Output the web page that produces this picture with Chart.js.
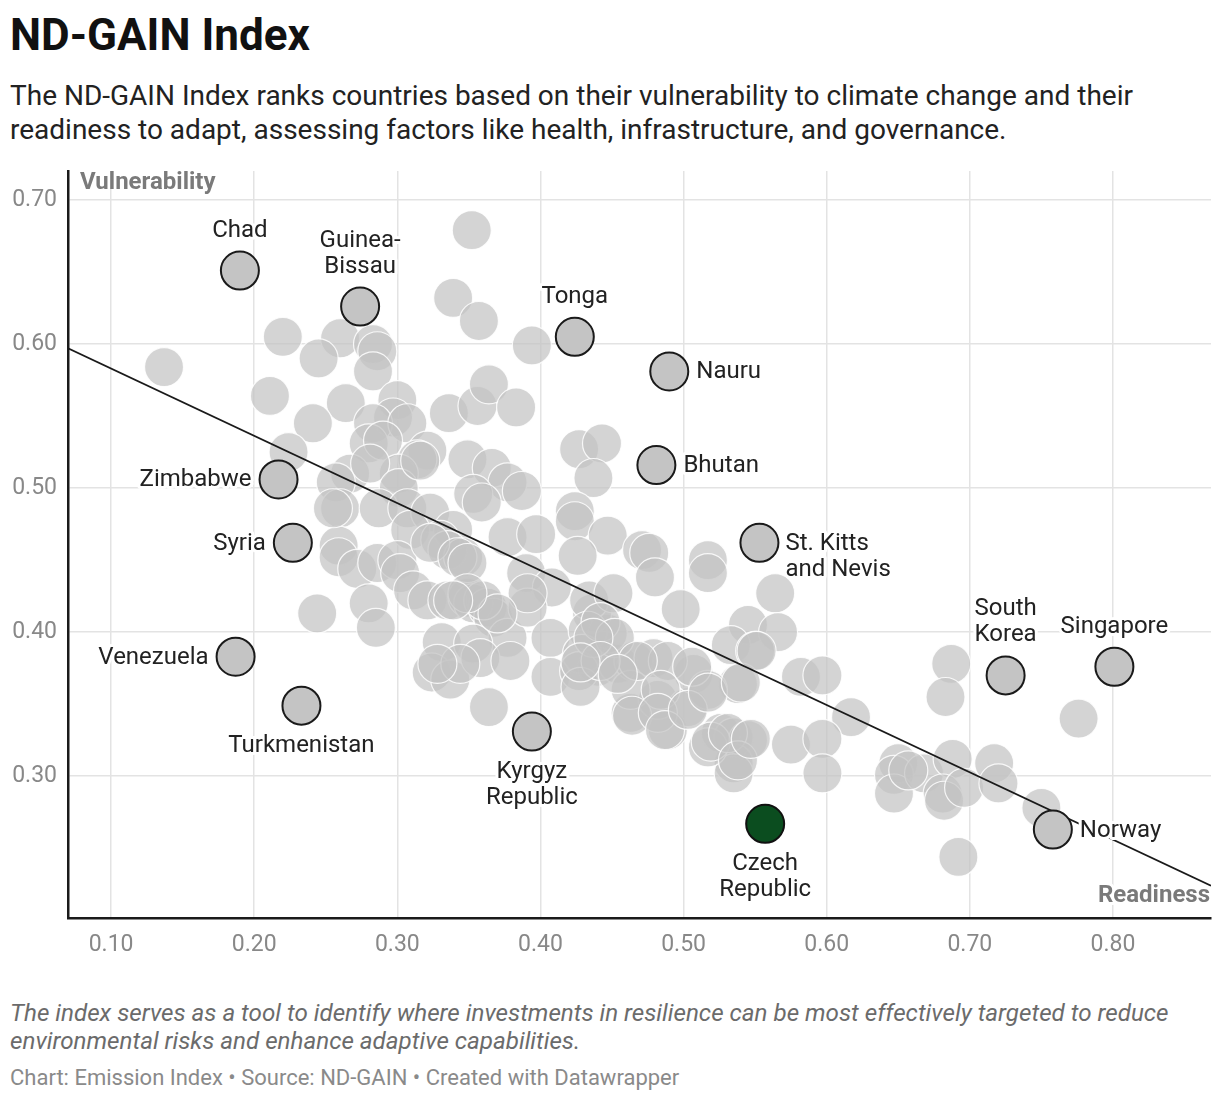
<!DOCTYPE html>
<html>
<head>
<meta charset="utf-8">
<script src="https://cdn.jsdelivr.net/npm/chart.js@4.4.1/dist/chart.umd.min.js"></script>
<style>
  html, body { margin: 0; padding: 0; background: #fff; }
  body { width: 1220px; height: 1102px; position: relative; font-family: Roboto, "Noto Sans", sans-serif; overflow: hidden; }
  #title { position: absolute; left: 10px; top: 8px; font-size: 44px; font-weight: 700; color: #111; line-height: 54px; }
  #sub { position: absolute; left: 10px; top: 79px; width: 1200px; font-size: 28px; line-height: 34px; color: #222; }
  #wrap { position: absolute; left: 0; top: 150px; width: 1232px; height: 830px; }
  #note { position: absolute; left: 10px; top: 999px; width: 1205px; font-size: 24.2px; line-height: 28px; font-style: italic; color: #6b6b6b; }
  #credit { position: absolute; left: 10px; top: 1065px; font-size: 22px; color: #8a8a8a; }
</style>
</head>
<body>
<div id="title">ND-GAIN Index</div>
<div id="sub">The ND-GAIN Index ranks countries based on their vulnerability to climate change and their readiness to adapt, assessing factors like health, infrastructure, and governance.</div>
<div id="wrap"><canvas id="c" width="1232" height="830"></canvas></div>
<div id="note">The index serves as a tool to identify where investments in resilience can be most effectively targeted to reduce environmental risks and enhance adaptive capabilities.</div>
<div id="credit">Chart: Emission Index • Source: ND-GAIN • Created with Datawrapper</div>
<script>
// Background countries: readiness (x) and vulnerability (y)
const otherReadiness = [
  0.137,0.220,0.260,0.245,0.283,0.286,0.283,0.211,0.264,0.300,0.339,0.352,0.357,0.241,0.336,0.394,
  0.297,0.283,0.307,0.280,0.290,0.321,0.314,0.301,0.356,0.364,0.383,0.224,0.349,0.366,0.377,0.387,
  0.267,0.257,0.281,0.301,0.316,0.260,0.287,0.307,0.323,0.309,0.339,0.330,0.335,0.346,0.353,0.359,
  0.377,0.397,0.390,0.408,0.259,0.259,0.272,0.286,0.300,0.302,0.311,0.321,0.335,0.349,0.353,0.363,
  0.367,0.377,0.391,0.244,0.280,0.285,0.331,0.324,0.337,0.353,0.358,0.379,0.364,0.407,0.407,0.344,
  0.328,0.255,
  0.427,0.443,0.437,0.424,0.424,0.447,0.426,0.471,0.476,0.480,0.517,0.517,0.498,0.564,0.545,0.566,
  0.533,0.550,0.538,0.582,0.597,0.617,0.575,0.597,0.597,0.526,0.535,0.545,0.535,0.535,0.517,0.489,
  0.463,0.482,0.503,0.507,0.517,0.440,0.454,0.465,0.479,0.489,0.463,0.447,0.436,0.434,0.451,0.433,
  0.429,0.427,0.428,0.391,0.323,0.342,0.349,0.360,0.370,0.349,0.339,0.442,0.452,0.437,0.468,0.484,
  0.464,0.482,0.487,0.506,0.503,0.517,0.519,0.531,0.538,0.547,0.540,0.551,0.442,0.428,0.454,
  0.687,0.683,0.776,0.650,0.647,0.647,0.668,0.688,0.681,0.682,0.696,0.717,0.720,0.750,0.692,0.657
];
const otherVulnerability = [
  0.584,0.605,0.604,0.590,0.600,0.595,0.581,0.564,0.559,0.561,0.632,0.679,0.616,0.545,0.552,0.599,
  0.549,0.545,0.545,0.531,0.533,0.526,0.520,0.510,0.557,0.572,0.556,0.525,0.520,0.514,0.504,0.498,
  0.510,0.504,0.517,0.500,0.519,0.486,0.486,0.486,0.483,0.471,0.471,0.464,0.457,0.452,0.496,0.490,
  0.466,0.468,0.441,0.431,0.460,0.452,0.444,0.448,0.450,0.441,0.429,0.422,0.422,0.424,0.420,0.417,
  0.410,0.396,0.417,0.413,0.420,0.403,0.393,0.372,0.367,0.392,0.382,0.380,0.348,0.396,0.369,0.378,
  0.378,0.486,
  0.527,0.531,0.507,0.484,0.477,0.467,0.453,0.457,0.455,0.438,0.450,0.441,0.416,0.427,0.405,0.400,
  0.391,0.387,0.364,0.369,0.370,0.341,0.322,0.326,0.302,0.330,0.327,0.325,0.309,0.302,0.320,0.332,
  0.344,0.353,0.348,0.371,0.360,0.376,0.378,0.380,0.382,0.380,0.360,0.399,0.413,0.422,0.427,0.401,
  0.385,0.373,0.362,0.427,0.462,0.452,0.448,0.422,0.413,0.427,0.422,0.407,0.396,0.396,0.380,0.360,
  0.342,0.344,0.332,0.376,0.346,0.358,0.324,0.330,0.311,0.326,0.365,0.387,0.380,0.379,0.371,
  0.378,0.355,0.340,0.309,0.301,0.288,0.302,0.312,0.288,0.283,0.292,0.309,0.295,0.278,0.244,0.304
];

// Highlighted countries
const hiNames = ["Chad","Guinea-Bissau","Tonga","Nauru","Bhutan","Zimbabwe","Syria","St. Kitts and Nevis",
  "Venezuela","Turkmenistan","Kyrgyz Republic","South Korea","Singapore","Norway"];
const hiReadiness = [0.190,0.274,0.424,0.490,0.481,0.217,0.227,0.553,0.187,0.233,0.394,0.725,0.801,0.758];
const hiVulnerability = [0.651,0.626,0.605,0.581,0.516,0.506,0.462,0.462,0.383,0.349,0.331,0.370,0.376,0.263];

const focusName = "Czech Republic";
const focusReadiness = [0.557];
const focusVulnerability = [0.267];

// Trend line endpoints
const trendReadiness = [0.0699, 0.8685];
const trendVulnerability = [0.597, 0.224];

// Axis ticks
const xTicks = [0.1,0.2,0.3,0.4,0.5,0.6,0.7,0.8];
const yTicks = [0.3,0.4,0.5,0.6,0.7];

// label placement: [lines, position]
const labelInfo = {
  "Chad": [["Chad"], "top"],
  "Guinea-Bissau": [["Guinea-","Bissau"], "top"],
  "Tonga": [["Tonga"], "top"],
  "Nauru": [["Nauru"], "right"],
  "Bhutan": [["Bhutan"], "right"],
  "Zimbabwe": [["Zimbabwe"], "left"],
  "Syria": [["Syria"], "left"],
  "St. Kitts and Nevis": [["St. Kitts","and Nevis"], "rightTop"],
  "Venezuela": [["Venezuela"], "left"],
  "Turkmenistan": [["Turkmenistan"], "bottom"],
  "Kyrgyz Republic": [["Kyrgyz","Republic"], "bottom"],
  "South Korea": [["South","Korea"], "top"],
  "Singapore": [["Singapore"], "top"],
  "Norway": [["Norway"], "right"],
  "Czech Republic": [["Czech","Republic"], "bottom"]
};

const toPts = (xs, ys) => xs.map((x, i) => ({x: x, y: ys[i]}));

const labelPlugin = {
  id: 'labels',
  afterDatasetsDraw(chart) {
    const ctx = chart.ctx;
    const ca = chart.chartArea;
    ctx.save();
    // axis titles
    ctx.font = 'bold 24px Roboto';
    ctx.fillStyle = '#7a7a7a';
    ctx.textBaseline = 'middle';
    ctx.textAlign = 'left';
    ctx.fillText('Vulnerability', ca.left + 12, ca.top + 12);
    ctx.textAlign = 'right';
    ctx.lineJoin = 'round';
    ctx.strokeStyle = '#fff';
    ctx.lineWidth = 6;
    ctx.strokeText('Readiness', ca.right - 1, ca.bottom - 22);
    ctx.fillText('Readiness', ca.right - 1, ca.bottom - 22);

    ctx.font = '24px Roboto';
    const lh = 26;
    const drawSet = (dsIndex, names) => {
      const meta = chart.getDatasetMeta(dsIndex);
      meta.data.forEach((el, i) => {
        const info = labelInfo[names[i]];
        if (!info) return;
        const lines = info[0], pos = info[1];
        const px = el.x, py = el.y;
        let tx, ty, align;
        if (pos === 'top') { align = 'center'; tx = px; ty = py - 40 - (lines.length - 1) * lh; }
        else if (pos === 'bottom') { align = 'center'; tx = px; ty = py + 40; }
        else if (pos === 'right') { align = 'left'; tx = px + 27; ty = py + 1; }
        else if (pos === 'rightTop') { align = 'left'; tx = px + 26; ty = py + 1; }
        else { align = 'right'; tx = px - 27; ty = py + 1; }
        ctx.textAlign = align;
        ctx.textBaseline = 'middle';
        lines.forEach((ln, k) => {
          ctx.strokeStyle = '#fff';
          ctx.lineWidth = 6;
          ctx.strokeText(ln, tx, ty + k * lh);
          ctx.fillStyle = '#222';
          ctx.fillText(ln, tx, ty + k * lh);
        });
      });
    };
    drawSet(2, hiNames);
    drawSet(3, [focusName]);
    ctx.restore();
  }
};

new Chart(document.getElementById('c'), {
  type: 'scatter',
  data: {
    datasets: [
      {
        label: 'Countries',
        data: toPts(otherReadiness, otherVulnerability),
        backgroundColor: 'rgba(195,195,195,0.72)',
        borderColor: 'rgba(255,255,255,0.85)',
        borderWidth: 1.2,
        pointRadius: 19.5,
        pointHoverRadius: 19.5,
        order: 4
      },
      {
        type: 'line',
        label: 'Trend',
        data: toPts(trendReadiness, trendVulnerability),
        borderColor: '#1a1a1a',
        borderWidth: 1.8,
        pointRadius: 0,
        fill: false,
        order: 3
      },
      {
        label: 'Highlighted',
        data: toPts(hiReadiness, hiVulnerability),
        backgroundColor: '#c4c4c4',
        borderColor: '#1a1a1a',
        borderWidth: 2,
        pointRadius: 19,
        pointHoverRadius: 19,
        order: 2
      },
      {
        label: focusName,
        data: toPts(focusReadiness, focusVulnerability),
        backgroundColor: '#0b4d1f',
        borderColor: '#111',
        borderWidth: 2,
        pointRadius: 19,
        pointHoverRadius: 19,
        order: 1
      }
    ]
  },
  options: {
    responsive: false,
    animation: false,
    events: [],
    layout: { padding: { left: 0, right: 10, top: 20, bottom: 0 } },
    plugins: { legend: { display: false }, tooltip: { enabled: false } },
    scales: {
      x: {
        type: 'linear',
        min: 0.0699,
        max: 0.8685,
        afterBuildTicks: (s) => { s.ticks = xTicks.map(v => ({value: v})); },
        afterFit: (s) => { s.height = 62; s.paddingLeft = 0; s.paddingRight = 0; },
        grid: { color: '#e3e3e3', lineWidth: 1.5, drawTicks: false },
        border: { color: '#1a1a1a', width: 2.5 },
        ticks: {
          padding: 13,
          color: '#888',
          font: { family: 'Roboto', size: 23 },
          callback: (v) => Number(v).toFixed(2),
          maxRotation: 0
        }
      },
      y: {
        type: 'linear',
        min: 0.2016,
        max: 0.7201,
        afterBuildTicks: (s) => { s.ticks = yTicks.map(v => ({value: v})); },
        afterFit: (s) => { s.width = 68; s.paddingTop = 0; s.paddingBottom = 0; },
        grid: { color: '#e3e3e3', lineWidth: 1.5, drawTicks: false },
        border: { color: '#1a1a1a', width: 2.5 },
        ticks: {
          padding: 11,
          color: '#888',
          font: { family: 'Roboto', size: 23 },
          callback: (v) => Number(v).toFixed(2)
        }
      }
    }
  },
  plugins: [labelPlugin]
});
</script>
</body>
</html>
